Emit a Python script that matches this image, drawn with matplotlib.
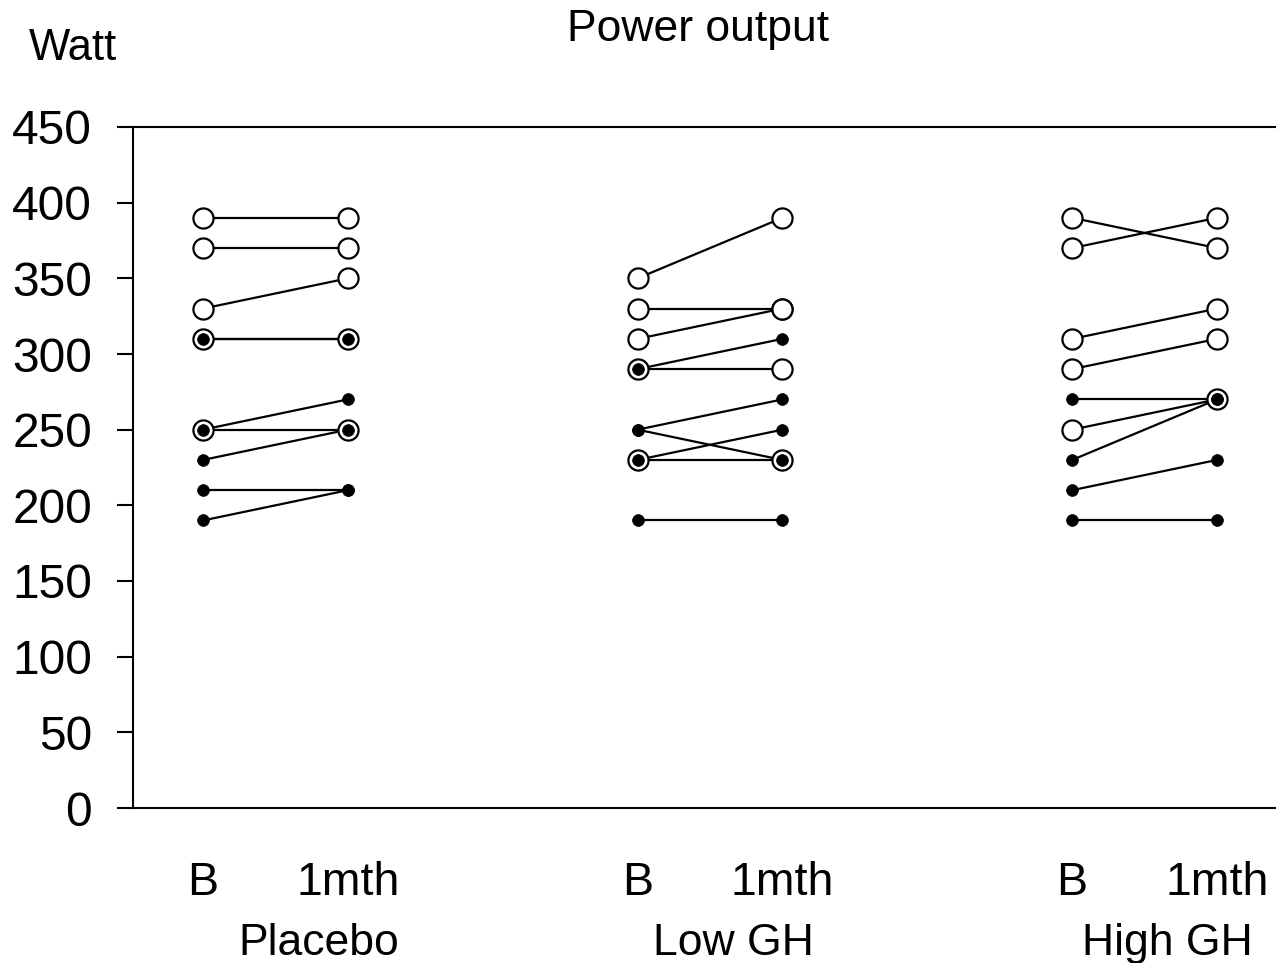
import matplotlib
matplotlib.use("Agg")
import matplotlib.pyplot as plt
import numpy as np

plt.rcParams['font.family'] = ['Liberation Sans', 'DejaVu Sans']

groups = ["Placebo", "Low GH", "High GH"]
time_labels = ["B", "1mth"]

men_B = [[390, 370, 330, 310, 250],
         [350, 330, 310, 290, 230],
         [390, 370, 310, 290, 250]]
men_1m = [[390, 370, 350, 310, 250],
          [390, 330, 330, 290, 230],
          [370, 390, 330, 310, 270]]
women_B = [[310, 250, 230, 210, 190],
           [290, 250, 250, 230, 190],
           [270, 230, 210, 190]]
women_1m = [[310, 270, 250, 210, 210],
            [310, 270, 230, 250, 190],
            [270, 270, 230, 190]]

yticks = [0, 50, 100, 150, 200, 250, 300, 350, 400, 450]

fig = plt.figure(figsize=(12.76, 9.63), dpi=100)
ax = fig.add_axes([133/1276, 155/963, 1 - 133/1276, 681/963])

group_x = [0, 3, 6]
lw = 1.6
for g, x0 in enumerate(group_x):
    xs = [x0, x0 + 1]
    for b, m in zip(men_B[g], men_1m[g]):
        ax.plot(xs, [b, m], color='black', lw=lw, zorder=1)
    for b, m in zip(women_B[g], women_1m[g]):
        ax.plot(xs, [b, m], color='black', lw=lw, zorder=1)
    ax.plot([x0]*len(men_B[g]) + [x0+1]*len(men_1m[g]), men_B[g] + men_1m[g],
            ls='none', marker='o', ms=14.5, mfc='white', mec='black', mew=1.6, zorder=2)
    ax.plot([x0]*len(women_B[g]) + [x0+1]*len(women_1m[g]), women_B[g] + women_1m[g],
            ls='none', marker='o', ms=8.5, mfc='black', mec='black', mew=0.5, zorder=3)

ax.set_xlim(-0.483, 7.407)
ax.set_ylim(0, 450)
ax.set_yticks(yticks)
ax.set_yticklabels([str(v) for v in yticks], fontsize=34.5)
ax.tick_params(axis='y', direction='out', length=11.5, width=1.5, pad=18)

xt = []
xl = []
for x0 in group_x:
    xt += [x0, x0 + 1]
    xl += time_labels
ax.set_xticks(xt)
ax.set_xticklabels(xl, fontsize=33.5)
ax.tick_params(axis='x', length=0, pad=38)

label_offsets = [0.80, 0.66, 0.66]
for g, x0 in enumerate(group_x):
    ax.text(x0 + label_offsets[g], -0.199, groups[g], transform=ax.get_xaxis_transform(),
            ha='center', va='center', fontsize=32)

for s in ['left', 'top', 'bottom']:
    ax.spines[s].set_linewidth(1.5)
ax.spines['right'].set_visible(False)

fig.text(73/1276, 1 - 49/963, "Watt", ha='center', va='center', fontsize=31.5)
fig.text(698/1276, 1 - 30/963, "Power output", ha='center', va='center', fontsize=32)

fig.savefig("out.png", dpi=100)
